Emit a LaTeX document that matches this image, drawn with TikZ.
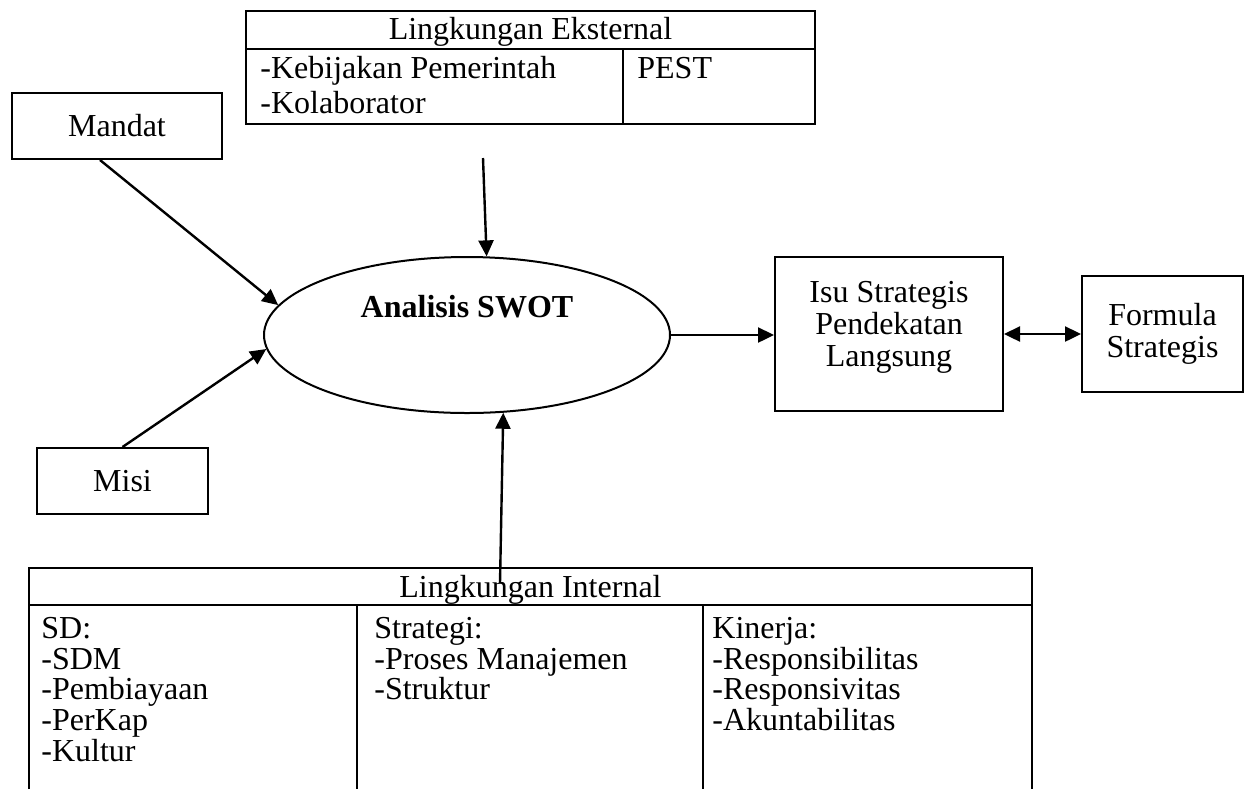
\documentclass[tikz,border=0pt]{standalone}
\usepackage{fontspec}
\setmainfont{Liberation Serif}
\usepackage{tikz}
\usetikzlibrary{arrows.meta,shapes.geometric,positioning,calc}
\tikzset{
  Garis/.style={line width=1pt},
  Kotak/.style={draw, line width=1pt, inner sep=0pt, align=center},
  Kolom/.style={anchor=north west, inner sep=0pt, align=left,
    font=\fontsize{16}{15.3}\selectfont},
  Panah/.style={line width=1.2pt, -{Triangle[length=8pt,width=7.5pt]}},
  PanahDua/.style={line width=1.2pt,
    {Triangle[length=8pt,width=7.5pt]}-{Triangle[length=8pt,width=7.5pt]}}
}

\begin{document}
\begin{tikzpicture}[x=0.5pt, y=-0.5pt, font=\fontsize{16}{16}\selectfont]
  \useasboundingbox (0,0) rectangle (1248,789);

  % lingkungan eksternal
  \coordinate (ekstNW) at (246,11);
  \coordinate (ekstSE) at (815,124);
  \draw[Garis] (ekstNW) rectangle (ekstSE);
  \draw[Garis] (246,49) -- (815,49);
  \draw[Garis] (623,49) -- (623,124);
  \node[anchor=base] (ekstJudul) at (530.5,39) {Lingkungan Eksternal};
  \node[anchor=north west, inner sep=0pt, align=left,
    font=\fontsize{16}{17.5}\selectfont] (ekstKiri) at (260,56)
    {-Kebijakan Pemerintah\\-Kolaborator};
  \node[anchor=base west, inner sep=0pt] (ekstPest) at (637,78) {PEST};

  % mandat dan misi
  \node[Kotak, minimum width=105pt, minimum height=33pt] (mandat) at (117,126) {Mandat};
  \node[Kotak, minimum width=85.5pt, minimum height=33pt] (misi) at (122.5,481) {Misi};

  % analisis swot
  \node[ellipse, draw, line width=1pt, inner sep=0pt,
    minimum width=203pt, minimum height=78pt] (swot) at (467,335) {};
  \node[anchor=base, font=\fontsize{16}{16}\selectfont\bfseries] (swotJudul)
    at (467,317) {Analisis SWOT};

  \node[Kotak, minimum width=114pt, minimum height=77pt] (isu) at (889,334)
    {\raisebox{3pt}[\height][\depth]{\begin{tabular}{@{}c@{}}
      Isu Strategis\\Pendekatan\\Langsung\end{tabular}}};
  \node[Kotak, minimum width=80.5pt, minimum height=58pt] (formula) at (1162.5,334)
    {Formula\\Strategis};

  % lingkungan internal
  \draw[Garis] (29,789) |- (1032,568) -- (1032,789);
  \draw[Garis] (29,605) -- (1032,605);
  \draw[Garis] (357,605) -- (357,789);
  \draw[Garis] (703,605) -- (703,789);
  \node[anchor=base] (intJudul) at (530.5,597) {Lingkungan Internal};
  \node[Kolom] (intSD) at (41,617) {SD:\\-SDM\\-Pembiayaan\\-PerKap\\-Kultur};
  \node[Kolom] (intStrategi) at (374,617) {Strategi:\\-Proses Manajemen\\-Struktur};
  \node[Kolom] (intKinerja) at (712,617)
    {Kinerja:\\-Responsibilitas\\-Responsivitas\\-Akuntabilitas};

  % panah
  \coordinate (ekstPanah) at (483,158);
  \coordinate (intPanah) at (500,583);
  \draw[Panah] ([xshift=-8.5pt]mandat.south) -- (swot.171);
  \draw[Panah] (misi.north) -- (swot.184);
  \draw[Panah] (ekstPanah) -- (swot.76);
  \draw[Panah] (intPanah) -- (swot.295);
  \draw[Panah] (swot.east) -- (swot.east -| isu.west);
  \draw[PanahDua] (isu.east) -- (formula.west);
\end{tikzpicture}
\end{document}
